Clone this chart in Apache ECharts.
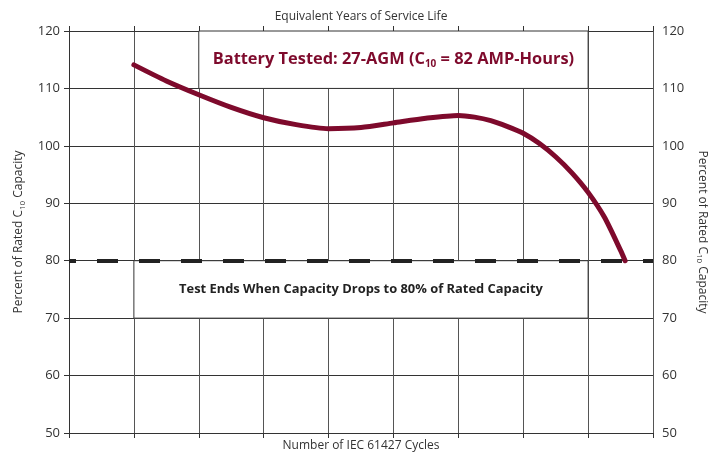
<!DOCTYPE html>
<html><head><meta charset="utf-8">
<script src="https://cdn.jsdelivr.net/npm/echarts@6/dist/echarts.min.js"></script>
<style>html,body{margin:0;padding:0;background:#fff}#c{width:708px;height:458px}</style>
</head><body><div id="c"></div>
<script>
// Data (x = cycle grid index, y = percent of rated C10 capacity)
const cycleIndex = [1, 1.5, 2, 2.5, 3, 3.5, 4, 4.5, 5, 5.5, 6, 6.25, 6.5, 6.75, 7, 7.25, 7.5, 7.75, 8, 8.25, 8.5, 8.57];
const capacity   = [114.1, 111.3, 108.9, 106.7, 104.9, 103.7, 103.0, 103.2, 104.0, 104.8, 105.3, 105.0, 104.4, 103.4, 102.2, 100.4, 98.1, 95.3, 91.9, 87.6, 81.8, 80];
const endThreshold = 80;
const yTicks = [50, 60, 70, 80, 90, 100, 110, 120];
const xGridCount = 9;
const titleText = ['Battery Tested: 27-AGM (C', '10', ' = 82 AMP-Hours)'];
const noteText = 'Test Ends When Capacity Drops to 80% of Rated Capacity';
const topAxisName = 'Equivalent Years of Service Life';
const bottomAxisName = 'Number of IEC 61427 Cycles';
const yAxisName = ['Percent of Rated C', '10', ' Capacity'];

const FONT = 'Open Sans';
const maroon = '#7e0a2c';
const curveData = cycleIndex.map((x, i) => [x, capacity[i]]);

const yNameRich = {
  n: {fontFamily: FONT, fontSize: 12, color: '#333', lineHeight: 16},
  s: {fontFamily: FONT, fontSize: 8, color: '#333', lineHeight: 10, padding: [7, 0, 0, 0]}
};
const yNameFmt = '{n|' + yAxisName[0] + '}{s|' + yAxisName[1] + '}{n|' + yAxisName[2] + '}';

const xBase = {
  type: 'value', min: 0, max: xGridCount, interval: 1,
  axisLabel: {show: false},
  axisLine: {show: true, lineStyle: {color: '#333', width: 1}},
  axisTick: {show: true, length: 5, inside: false, lineStyle: {color: '#333'}},
  nameLocation: 'middle',
  nameTextStyle: {fontFamily: FONT, fontSize: 12, color: '#333'}
};
const yBase = {
  type: 'value', min: yTicks[0], max: yTicks[yTicks.length - 1], interval: 10,
  axisLine: {show: true, lineStyle: {color: '#333', width: 1}},
  axisTick: {show: true, length: 5, lineStyle: {color: '#333'}},
  axisLabel: {fontFamily: FONT, fontSize: 13, color: '#333', margin: 9},
  nameLocation: 'middle',
  nameTextStyle: {rich: yNameRich}
};

const option = {
  animation: false,
  backgroundColor: '#fff',
  grid: {left: 69, right: 55, top: 31, bottom: 25, containLabel: false, outerBoundsMode: 'none'},
  xAxis: [
    Object.assign({}, xBase, {position: 'bottom', name: bottomAxisName, nameGap: 7,
      splitLine: {show: true, lineStyle: {color: '#555', width: 1}}}),
    Object.assign({}, xBase, {position: 'top', name: topAxisName, nameGap: 8, splitLine: {show: false}})
  ],
  yAxis: [
    Object.assign({}, yBase, {position: 'left', name: yNameFmt, nameGap: 42, nameRotate: 90,
      splitLine: {show: true, lineStyle: {color: '#333', width: 1}}}),
    Object.assign({}, yBase, {position: 'right', name: yNameFmt, nameGap: 36, nameRotate: -90,
      splitLine: {show: false}})
  ],
  series: [
    {
      type: 'line', xAxisIndex: 0, yAxisIndex: 0, data: [], silent: true, z: 2,
      markArea: {
        silent: true,
        itemStyle: {color: '#fff', borderColor: '#333', borderWidth: 1},
        data: [
          [{coord: [2, 120],
            label: {show: true, position: 'inside',
              formatter: '{t|' + titleText[0] + '}{s|' + titleText[1] + '}{t|' + titleText[2] + '}',
              rich: {
                t: {fontFamily: FONT, fontSize: 16.4, fontWeight: 'bold', color: maroon, lineHeight: 22},
                s: {fontFamily: FONT, fontSize: 10, fontWeight: 'bold', color: maroon, lineHeight: 12, padding: [9, 0, 0, 0]}
              }}},
           {coord: [8, 110]}],
          [{coord: [1, endThreshold],
            label: {show: true, position: 'inside', formatter: noteText,
              fontFamily: FONT, fontSize: 12.9, fontWeight: 'bold', color: '#222'}},
           {coord: [8, 70]}]
        ]
      }
    },
    {
      type: 'line', xAxisIndex: 0, yAxisIndex: 0, data: [], silent: true, z: 3,
      markLine: {
        silent: true, symbol: ['none', 'none'],
        label: {show: false},
        lineStyle: {color: '#222', width: 4, type: [21, 21], dashOffset: 14, opacity: 1},
        data: [{yAxis: endThreshold}]
      }
    },
    {
      type: 'line', xAxisIndex: 0, yAxisIndex: 0, data: curveData,
      smooth: 0.25, symbol: 'none', z: 5,
      lineStyle: {color: maroon, width: 5, cap: 'round', join: 'round'}
    }
  ]
};
const chart = echarts.init(document.getElementById('c'), null, {renderer: 'canvas'});
chart.setOption(option);
</script>
</body></html>
